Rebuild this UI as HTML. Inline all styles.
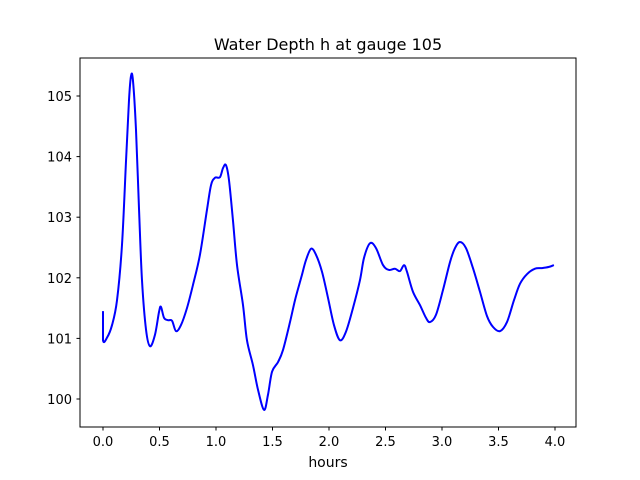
<!DOCTYPE html>
<html><head><meta charset="utf-8"><style>
body{margin:0;background:#fff;}
svg{display:block;font-family:"DejaVu Sans","Liberation Sans",sans-serif;}
</style></head><body>
<svg id="chart" width="640" height="480" viewBox="0 0 640 480">
<rect x="0" y="0" width="640" height="480" fill="#fff"/>
<text x="328" y="50" text-anchor="middle" font-size="16" fill="#000">Water Depth h at gauge 105</text>
<g id="xticks"></g>
<g id="yticks"></g>
<path id="series" fill="none" stroke="#0000ff" stroke-width="2" stroke-linejoin="round"/>
<rect x="80" y="58" width="496" height="369" fill="none" stroke="#000" stroke-width="1"/>
<text x="328" y="467" text-anchor="middle" font-size="14" fill="#000">hours</text>
</svg>
<script>
const times = [0,0,0.035,0.08,0.124,0.168,0.204,0.23,0.248,0.265,0.292,0.319,0.345,0.381,0.416,0.46,0.496,0.513,0.54,0.575,0.611,0.646,0.69,0.743,0.796,0.858,0.92,0.956,0.991,1.035,1.062,1.088,1.115,1.15,1.186,1.239,1.274,1.327,1.372,1.425,1.46,1.496,1.549,1.593,1.655,1.699,1.743,1.761,1.796,1.841,1.885,1.938,1.991,2.044,2.097,2.15,2.212,2.274,2.31,2.363,2.416,2.478,2.531,2.584,2.628,2.664,2.69,2.743,2.805,2.858,2.894,2.947,3.009,3.071,3.115,3.159,3.212,3.274,3.336,3.398,3.451,3.513,3.575,3.637,3.69,3.752,3.823,3.885,3.947,3.99];
const depths = [101.45,100.97,101.01,101.22,101.63,102.54,103.94,104.93,105.33,105.26,104.44,103.12,101.96,101.14,100.87,101.06,101.44,101.52,101.34,101.30,101.29,101.12,101.22,101.50,101.88,102.38,103.12,103.53,103.65,103.66,103.81,103.86,103.61,102.95,102.21,101.55,100.97,100.56,100.15,99.82,100.07,100.45,100.61,100.81,101.27,101.63,101.93,102.05,102.29,102.48,102.38,102.10,101.67,101.22,100.97,101.11,101.50,101.96,102.33,102.57,102.49,102.21,102.13,102.15,102.11,102.21,102.10,101.77,101.55,101.34,101.27,101.39,101.80,102.26,102.49,102.59,102.49,102.16,101.77,101.37,101.19,101.12,101.27,101.63,101.90,102.06,102.15,102.16,102.18,102.21];
const xTickLabels = ["0.0","0.5","1.0","1.5","2.0","2.5","3.0","3.5","4.0"];
const xTickValues = [0,0.5,1,1.5,2,2.5,3,3.5,4];
const yTickValues = [100,101,102,103,104,105];

const NS="http://www.w3.org/2000/svg";
function xs(t){return 103 + (t-0)*113;}
function ys(h){return 399 - (h-100)*60.6;}
const xg=document.getElementById('xticks'), yg=document.getElementById('yticks');
xTickValues.forEach((v,i)=>{
  const x=xs(v);
  const l=document.createElementNS(NS,'line');
  l.setAttribute('x1',x);l.setAttribute('x2',x);l.setAttribute('y1',427);l.setAttribute('y2',430.5);l.setAttribute('stroke','#000');
  
  
  xg.appendChild(l);
  const t=document.createElementNS(NS,'text');
  t.setAttribute('x',x);t.setAttribute('y',446);t.setAttribute('text-anchor','middle');t.setAttribute('font-size','13');
  t.textContent=xTickLabels[i];
  
  
  xg.appendChild(t);
});
yTickValues.forEach(v=>{
  const y=ys(v);
  const l=document.createElementNS(NS,'line');
  l.setAttribute('x1',76.5);l.setAttribute('x2',80);l.setAttribute('y1',y);l.setAttribute('y2',y);l.setAttribute('stroke','#000');
  
  
  yg.appendChild(l);
  const t=document.createElementNS(NS,'text');
  t.setAttribute('x',72);t.setAttribute('y',y+5);t.setAttribute('text-anchor','end');t.setAttribute('font-size','13');
  t.textContent=String(v);
  
  
  yg.appendChild(t);
});
const P=times.map((t,i)=>[xs(t),ys(depths[i])]);
let d='M'+P[0][0]+' '+P[0][1];
for(let i=0;i<P.length-1;i++){
  const p0=P[Math.max(0,i-1)],p1=P[i],p2=P[i+1],p3=P[Math.min(P.length-1,i+2)];
  const c1=[p1[0]+(p2[0]-p0[0])/6,p1[1]+(p2[1]-p0[1])/6];
  const c2=[p2[0]-(p3[0]-p1[0])/6,p2[1]-(p3[1]-p1[1])/6];
  if(i===0){d+=' L'+p2[0]+' '+p2[1];continue;}
  d+=' C'+c1[0].toFixed(2)+' '+c1[1].toFixed(2)+' '+c2[0].toFixed(2)+' '+c2[1].toFixed(2)+' '+p2[0].toFixed(2)+' '+p2[1].toFixed(2);
}
document.getElementById('series').setAttribute('d',d);
</script>
</body></html>
